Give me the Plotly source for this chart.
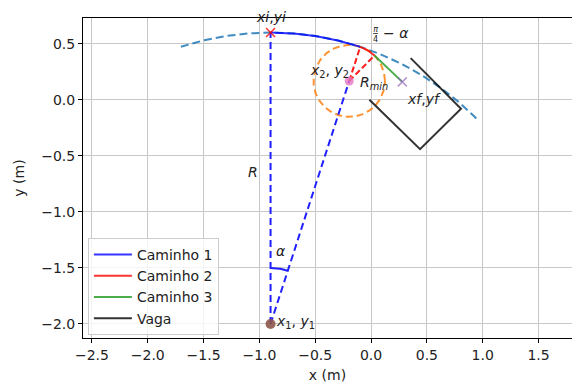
import numpy as np
import plotly.graph_objects as go

# ---- geometry values ----
R = 2.6                 # big turning radius
x1, y1 = -0.9, -2.0     # centre of big circle
alpha_deg = 18.0        # angle alpha
Rmin = 0.32             # minimum radius
xf, yf = 0.28, 0.16     # final point
ref_arc_deg = [108.0, 44.5]   # span of dashed reference circle (deg)
alpha_arc_r = 0.5
vaga_x = [0.355, 0.806, 0.439, -0.015]
vaga_y = [0.372, -0.080, -0.440, 0.0]
x_ticks = [-2.5, -2.0, -1.5, -1.0, -0.5, 0.0, 0.5, 1.0, 1.5]
y_ticks = [-2.0, -1.5, -1.0, -0.5, 0.0, 0.5]
legend_names = ["Caminho 1", "Caminho 2", "Caminho 3", "Vaga"]

# ---- derived points ----
d2r = np.pi / 180
xi, yi = x1, y1 + R
th_t = (90 - alpha_deg) * d2r
xt, yt = x1 + R * np.cos(th_t), y1 + R * np.sin(th_t)
x2, y2 = x1 + (R - Rmin) * np.cos(th_t), y1 + (R - Rmin) * np.sin(th_t)
th_e = 45 * d2r
xe, ye = x2 + Rmin * np.cos(th_e), y2 + Rmin * np.sin(th_e)

def arc(cx, cy, r, a0, a1, n=100):
    t = np.linspace(a0, a1, n)
    return cx + r * np.cos(t), cy + r * np.sin(t)

fig = go.Figure()
FONT = "DejaVu Sans"
FS = 14

# dashed reference circle
ax_, ay_ = arc(x1, y1, R, ref_arc_deg[0] * d2r, ref_arc_deg[1] * d2r, 200)
fig.add_trace(go.Scatter(x=ax_, y=ay_, mode="lines", showlegend=False,
                         line=dict(color="rgba(31,119,180,0.85)", width=2, dash="8px,4px")))
# Rmin circle
cx_, cy_ = arc(x2, y2, Rmin, 0, 2 * np.pi, 200)
fig.add_trace(go.Scatter(x=cx_, y=cy_, mode="lines", showlegend=False,
                         line=dict(color="rgba(255,127,14,0.85)", width=2, dash="7px,4px")))
# R vertical and slanted radii
fig.add_trace(go.Scatter(x=[x1, xi], y=[y1, yi], mode="lines", showlegend=False,
                         line=dict(color="#1f1fff", width=2, dash="7px,4px")))
fig.add_trace(go.Scatter(x=[x1, x2], y=[y1, y2], mode="lines", showlegend=False,
                         line=dict(color="#1f1fff", width=2, dash="7px,4px")))
# Rmin radii
fig.add_trace(go.Scatter(x=[x2, xt], y=[y2, yt], mode="lines", showlegend=False,
                         line=dict(color="#ff1f1f", width=2, dash="6px,3px")))
fig.add_trace(go.Scatter(x=[x2, xe], y=[y2, ye], mode="lines", showlegend=False,
                         line=dict(color="#ff1f1f", width=2, dash="6px,3px")))
# alpha arc
aax, aay = arc(x1, y1, alpha_arc_r, 90 * d2r, th_t, 30)
fig.add_trace(go.Scatter(x=aax, y=aay, mode="lines", showlegend=False,
                         line=dict(color="#1f1fff", width=2)))
# Caminho 1
c1x, c1y = arc(x1, y1, R, 90 * d2r, th_t, 60)
fig.add_trace(go.Scatter(x=c1x, y=c1y, mode="lines", name=legend_names[0],
                         line=dict(color="rgba(0,0,255,0.8)", width=2)))
# Caminho 2
c2x, c2y = arc(x2, y2, Rmin, th_t, th_e, 40)
fig.add_trace(go.Scatter(x=c2x, y=c2y, mode="lines", name=legend_names[1],
                         line=dict(color="rgba(255,0,0,0.8)", width=2)))
# Caminho 3
fig.add_trace(go.Scatter(x=[xe, xf], y=[ye, yf], mode="lines", name=legend_names[2],
                         line=dict(color="rgba(44,160,44,0.85)", width=2)))
# Vaga
fig.add_trace(go.Scatter(x=vaga_x, y=vaga_y, mode="lines", name=legend_names[3],
                         line=dict(color="rgba(0,0,0,0.8)", width=2)))
# markers
fig.add_trace(go.Scatter(x=[xi], y=[yi], mode="markers", showlegend=False,
                         marker=dict(symbol="x-thin", size=9, line=dict(color="rgba(255,0,0,0.8)", width=1.5))))
fig.add_trace(go.Scatter(x=[xf], y=[yf], mode="markers", showlegend=False,
                         marker=dict(symbol="x-thin", size=9, line=dict(color="rgba(148,103,189,0.7)", width=1.5))))
fig.add_trace(go.Scatter(x=[x2], y=[y2], mode="markers", showlegend=False,
                         marker=dict(symbol="circle", size=9, color="rgba(227,119,194,0.8)")))
fig.add_trace(go.Scatter(x=[x1], y=[y1], mode="markers", showlegend=False,
                         marker=dict(symbol="circle", size=10, color="rgba(140,86,75,0.9)")))

def note(x, y, text, xanchor="left", yanchor="middle", size=FS, yref="y"):
    fig.add_annotation(x=x, y=y, text=text, showarrow=False, xanchor=xanchor, yref=yref,
                       yanchor=yanchor, borderpad=0,
                       font=dict(family=FONT, size=size, color="#222"))

note(xi, 1.031, "<i>xi</i>,<i>yi</i>", xanchor="center", yanchor="top", yref="paper")
note(0.04, 0.585, "<u><i>π</i></u><br>4", xanchor="center", size=8)
note(0.095, 0.60, "− <i>α</i>")
note(-0.19, 0.26, "<i>x</i><sub>2</sub>, <i>y</i><sub>2</sub>", xanchor="right")
note(-0.11, 0.15, "<i>R</i><sub><i>min</i></sub>")
note(0.31, 0.01, "<i>xf</i>,<i>yf</i>")
note(-1.06, -0.645, "<i>R</i>", xanchor="center")
note(-0.81, -1.35, "<i>α</i>", xanchor="center")
note(-0.86, -1.98, "<i>x</i><sub>1</sub>, <i>y</i><sub>1</sub>")

axis_common = dict(showgrid=True, gridcolor="#c8c8c8", gridwidth=1, zeroline=False,
                   showline=True, linecolor="black", linewidth=1, mirror=True,
                   ticks="outside", ticklen=4, tickcolor="black", automargin=False,
                   tickfont=dict(family=FONT, size=FS, color="#222"),
                   tickformat=".1f")
fig.update_xaxes(range=[-2.58, 1.80], tickvals=x_ticks,
                 title=dict(text="x (m)", font=dict(family=FONT, size=FS, color="#222"), standoff=8),
                 **axis_common)
fig.update_yaxes(range=[-2.125, 0.73], tickvals=y_ticks,
                 title=dict(text="y (m)", font=dict(family=FONT, size=FS, color="#222"), standoff=13),
                 **axis_common)

# page body has an 8px margin: figure is sized/offset to compensate
fig.update_layout(width=572, height=381, margin=dict(l=75, r=8, t=10, b=51),
                  plot_bgcolor="white", paper_bgcolor="white",
                  font=dict(family=FONT, size=FS, color="#222"),
                  legend=dict(x=0.01, y=0.3125, xanchor="left", yanchor="top",
                              bgcolor="rgba(255,255,255,0.8)", bordercolor="#cccccc",
                              borderwidth=1, font=dict(family=FONT, size=FS, color="#222"),
                              tracegroupgap=0, itemwidth=38))

fig.write_html("out.html")
